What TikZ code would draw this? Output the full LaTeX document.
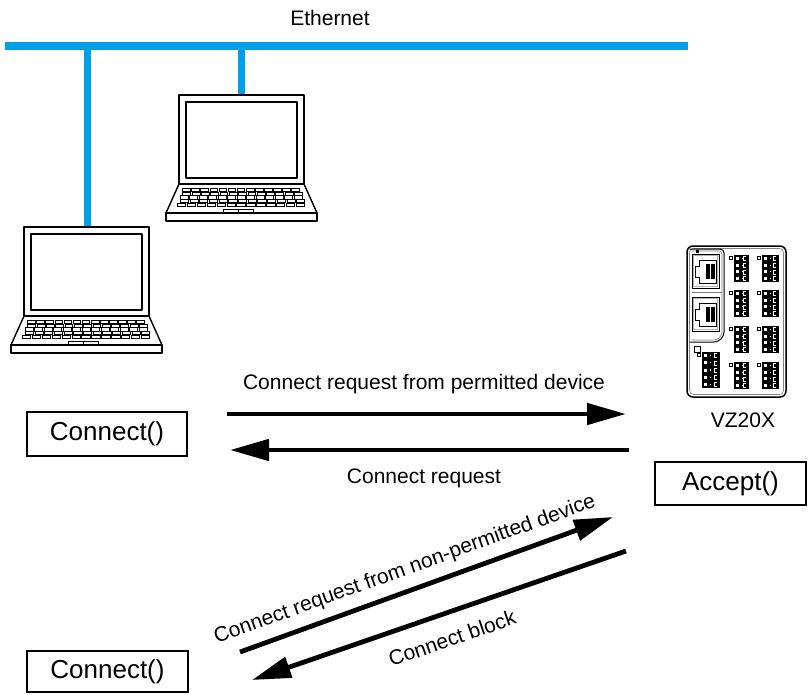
\documentclass[tikz,border=0pt]{standalone}
\usepackage{fontspec}
\setmainfont{Liberation Sans}
\usetikzlibrary{arrows.meta}
\definecolor{ethblue}{RGB}{0,160,233}

% terminal block: x, y, width, height, rows
\newcommand\tblk[5]{%
  \fill[black] (#1,#2) rectangle ++(#3,#4);
  \draw[line width=0.5pt] (#1-5,#2+1) rectangle ++(3,3);
  \foreach \i in {1,...,#5}{%
    \pgfmathsetmacro{\cy}{#2+(\i-0.5)*#4/#5}
    \fill[white] (#1+2,\cy-1.5) rectangle ++(3,3);
    \fill[white] (#1+7.5,\cy-0.6) rectangle ++(1.2,1.2);
    \draw[white,line width=0.5pt] (#1+#3-3,\cy-2) -- ++(-2.5,0) -- ++(0,4) -- ++(2.5,0);
  }%
}

% RJ45 jack: top-left corner of its frame
\newcommand\jack[2]{%
  \draw[line width=0.9pt] (#1,#2) rectangle ++(27,34);
  \draw[gray!60,line width=0.5pt] (#1+1.5,#2+1.5) rectangle ++(24,31);
  \draw[line width=0.9pt] (#1+7,#2+6) -- (#1+24,#2+6) -- (#1+24,#2+29) -- (#1+7,#2+29)
     -- (#1+7,#2+23) -- (#1+3.5,#2+23) -- (#1+3.5,#2+12) -- (#1+7,#2+12) -- cycle;
  \foreach \i in {0,...,7}{\draw[line width=0.4pt] (#1+14+\i*1.2,#2+10) -- ++(0,15);}
}

\begin{document}
\begin{tikzpicture}[x=1pt,y=-1pt,
  lbl/.style={font=\fontsize{21}{25}\selectfont, inner sep=0pt},
  fnbox/.style={draw, line width=2pt, font=\fontsize{26}{30}\selectfont, inner sep=0pt},
  msg/.style={line width=4.8pt, -{Triangle[length=39pt,width=21pt]}},
  eth/.style={ethblue, line width=8pt},
  drop/.style={ethblue, line width=7pt},
  lap/.style={line width=1.4pt, line join=round},
  key/.style={line width=0.6pt, fill=white},
  laptop/.pic={
    \draw[lap] (0,0) rectangle (125,89);
    \draw[lap] (7,7) rectangle (118,83);
    \draw[lap] (0,89) -- (-13,118) -- (138,118) -- (125,89);
    \draw[lap] (-13,118) rectangle (138,126);
    \foreach \r in {0,...,4}{
      \foreach \k in {0,...,12}{
        \pgfmathsetmacro{\kx}{3.5-1.3*\r+\k*(9.1+0.2*\r)+mod(\r,2)*1.5}
        \pgfmathsetmacro{\ky}{93+3.8*\r}
        \draw[key] (\kx,\ky) rectangle ++(7.6+0.2*\r,3.2);
      }
    }
    \draw[lap,line width=0.9pt] (44,114.5) rectangle (59,118);
    \draw[lap,line width=0.9pt] (59,114.5) rectangle (74,118);
  }]
\useasboundingbox (0,0) rectangle (809,694);

% Ethernet bus and the two drops
\coordinate (busL) at (5,46);
\coordinate (busR) at (688,46);
\coordinate (tap1) at (87,46);
\coordinate (tap2) at (241,46);
\coordinate (pc1top) at (87,227);
\coordinate (pc2top) at (241,95);
\draw[drop] (tap1) -- (pc1top);
\draw[drop] (tap2) -- (pc2top);
\draw[eth] (busL) -- (busR);
\node[lbl, anchor=base] (ethlbl) at (330,25) {Ethernet};

% laptops
\pic (pc1) at (24,227) {laptop};
\pic (pc2) at (179,95) {laptop};

% VZ20X unit
\draw[line width=1.5pt, rounded corners=6pt] (687,246) rectangle (786,397);
\draw[gray, line width=0.6pt, rounded corners=4pt] (689.5,248.5) rectangle (783.5,394.5);
\draw[line width=1pt, rounded corners=4pt] (689.5,249) -- (724,249) -- (724,336) -- (718,342) -- (689.5,342);
\draw[gray, line width=0.6pt, rounded corners=3pt] (691.5,251) -- (722,251) -- (722,335) -- (717,340) -- (691.5,340);
\fill (695.5,249.5) rectangle ++(3.5,3.5);
\jack{692}{254}
\draw[gray, line width=0.8pt] (691.5,292.5) -- (722,292.5);
\jack{692}{297}
\foreach \yy in {255,290,326,362}{
  \tblk{734}{\yy}{15}{27}{4}
  \tblk{762}{\yy}{17}{27}{4}
}
\fill[white] (694,346) rectangle ++(6,6);
\draw[line width=0.7pt] (694,346) rectangle ++(6,6);
\tblk{702}{352}{18}{36}{5}
\node[lbl, anchor=base] (vzlbl) at (743,427) {VZ20X};

% function boxes
\node[fnbox, minimum width=160pt, minimum height=44pt] (conn1) at (107,434) {Connect()};
\node[fnbox, minimum width=151pt, minimum height=43pt] (acc) at (730.5,483.5) {Accept()};
\node[fnbox, minimum width=161pt, minimum height=41pt] (conn2) at (107.5,671.5) {Connect()};

% message arrows
\coordinate (m1s) at (227,414);
\coordinate (m1e) at (626,414);
\coordinate (m2s) at (629,450);
\coordinate (m2e) at (230,450);
\coordinate (m3s) at (240,652);
\coordinate (m3e) at (613,517);
\coordinate (m4s) at (626,551);
\coordinate (m4e) at (252,680);
\draw[msg] (m1s) -- (m1e);
\draw[msg] (m2s) -- (m2e);
\draw[msg] (m3s) -- (m3e);
\draw[msg] (m4s) -- (m4e);

\node[lbl, anchor=base] (t1) at (424,389) {Connect request from permitted device};
\node[lbl, anchor=base] (t2) at (424,483) {Connect request};
\node[lbl, rotate=19.9] (t3) at (405,570) {Connect request from non-permitted device};
\node[lbl, rotate=19] (t4) at (452,638) {Connect block};
\end{tikzpicture}
\end{document}
